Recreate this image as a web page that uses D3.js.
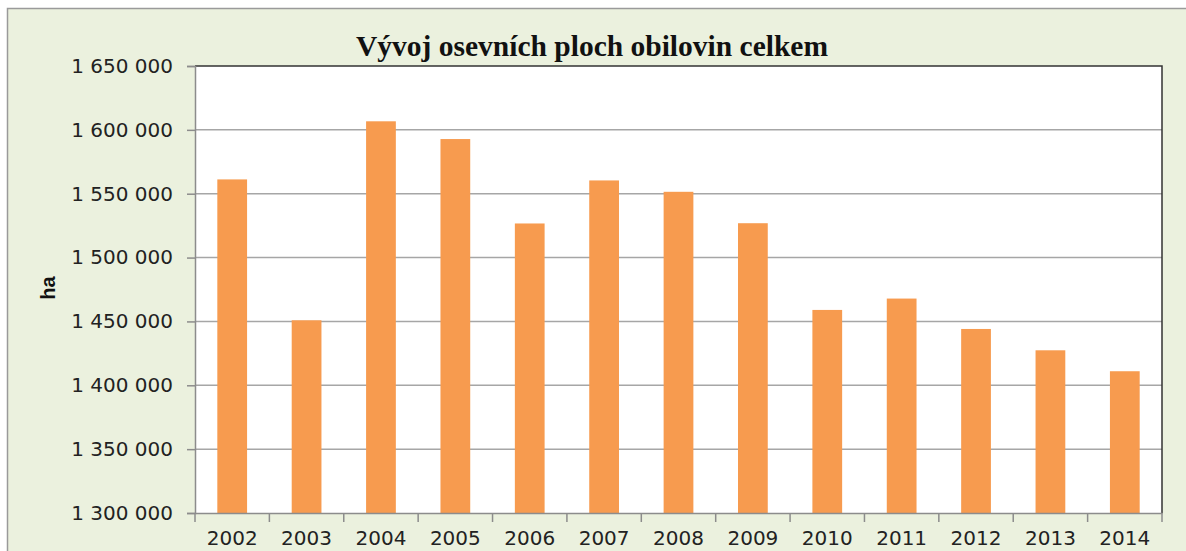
<!DOCTYPE html>
<html>
<head>
<meta charset="utf-8">
<script src="https://cdn.jsdelivr.net/npm/d3@7"></script>
<style>
  body { margin: 0; background: #fff; }
  svg { display: block; }
</style>
</head>
<body>
<div id="chart"></div>
<script>
// data
var years = ["2002", "2003", "2004", "2005", "2006", "2007", "2008",
             "2009", "2010", "2011", "2012", "2013", "2014"];
var areas = [1561200, 1450900, 1606700, 1592800, 1526700, 1560400, 1551500,
             1526900, 1459000, 1467900, 1444100, 1427400, 1411000];
var yTicks = [1300000, 1350000, 1400000, 1450000, 1500000, 1550000, 1600000, 1650000];

var width = 1186,
    height = 551,
    plot = {left: 195, top: 66, right: 1162, bottom: 513};

var svg = d3.select("#chart").append("svg")
    .attr("width", width)
    .attr("height", height);

// chart area background + border
svg.append("rect")
    .attr("x", 7.5).attr("y", 8.5)
    .attr("width", width).attr("height", height)
    .attr("fill", "#ebf1de")
    .attr("stroke", "#9a9a9a")
    .attr("stroke-width", 1.5);

svg.append("rect")
    .attr("x", plot.left).attr("y", plot.top)
    .attr("width", plot.right - plot.left)
    .attr("height", plot.bottom - plot.top)
    .attr("fill", "#fff");

// scales
var x = d3.scaleBand()
    .domain(years)
    .range([plot.left, plot.right])
    .paddingInner(0.6)
    .paddingOuter(0.3);

var y = d3.scaleLinear()
    .domain([1300000, 1650000])
    .range([plot.bottom, plot.top]);

var fmt = d3.formatLocale({decimal: ",", thousands: " ", grouping: [3]}).format(",d");

// gridlines
svg.append("g")
    .selectAll("line")
    .data(yTicks.slice(1, -1))
    .enter().append("line")
    .attr("x1", plot.left).attr("x2", plot.right)
    .attr("y1", d => y(d)).attr("y2", d => y(d))
    .attr("stroke", "#a6a6a6")
    .attr("stroke-width", 1.5);

// bars
svg.append("g")
    .selectAll("rect")
    .data(areas)
    .enter().append("rect")
    .attr("x", (d, i) => x(years[i]))
    .attr("width", x.bandwidth())
    .attr("y", d => y(d))
    .attr("height", d => y(1300000) - y(d))
    .attr("fill", "#f79b4f");

// plot border top + right (dark)
svg.append("path")
    .attr("d", "M" + plot.left + "," + plot.top + "H" + plot.right + "V" + plot.bottom)
    .attr("fill", "none")
    .attr("stroke", "#333")
    .attr("stroke-width", 1.5);

// y axis
var yAxis = svg.append("g")
    .attr("transform", "translate(" + plot.left + ",0)")
    .call(d3.axisLeft(y).tickValues(yTicks).tickFormat(fmt).tickSize(8).tickPadding(14));

yAxis.select(".domain").attr("stroke", "#8c8c8c").attr("stroke-width", 1.5);
yAxis.selectAll(".tick line").attr("stroke", "#8c8c8c").attr("stroke-width", 1.5);
yAxis.selectAll("text")
    .attr("font-family", "DejaVu Sans")
    .attr("font-size", 20)
    .attr("fill", "#222");

// x axis: labels under band centres, ticks on band boundaries
var xAxis = svg.append("g")
    .attr("transform", "translate(0," + plot.bottom + ")")
    .call(d3.axisBottom(x).tickSize(0).tickPadding(18));

xAxis.select(".domain").attr("stroke", "#8c8c8c").attr("stroke-width", 1.5);
xAxis.selectAll("text")
    .attr("font-family", "DejaVu Sans")
    .attr("font-size", 20)
    .attr("fill", "#222");

var half = (x.step() - x.bandwidth()) / 2;
var edges = years.map(d => x(d) - half).concat([x(years[years.length - 1]) + x.bandwidth() + half]);

xAxis.selectAll(".edge")
    .data(edges)
    .enter().append("line")
    .attr("class", "edge")
    .attr("x1", d => d).attr("x2", d => d)
    .attr("y1", 0).attr("y2", 9)
    .attr("stroke", "#8c8c8c")
    .attr("stroke-width", 1.5);

// title
svg.append("text")
    .attr("x", 592)
    .attr("y", 56)
    .attr("text-anchor", "middle")
    .attr("font-family", "Liberation Serif")
    .attr("font-weight", "bold")
    .attr("font-size", 29.5)
    .attr("fill", "#111")
    .text("Vývoj osevních ploch obilovin celkem");

// y axis title
svg.append("text")
    .attr("transform", "translate(55,288) rotate(-90)")
    .attr("text-anchor", "middle")
    .attr("font-family", "Liberation Sans")
    .attr("font-weight", "bold")
    .attr("font-size", 20)
    .attr("fill", "#111")
    .text("ha");
</script>
</body>
</html>
